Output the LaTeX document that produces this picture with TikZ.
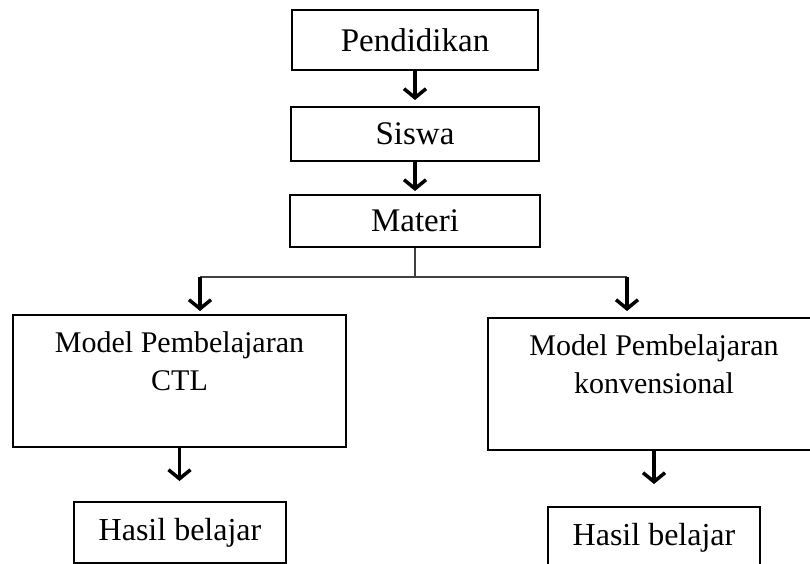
\documentclass[tikz,border=0pt]{standalone}
\usepackage{fontspec}
\setmainfont{Liberation Serif}
\usetikzlibrary{arrows.meta, calc}
\tikzset{
  every picture/.style={line width=2pt},
  box/.style={draw=black, line width=2pt, align=center, inner sep=0pt, font=\fontsize{33}{40}\selectfont},
  modelbox/.style={box, minimum width=333pt, minimum height=132pt, font=\fontsize{30}{38}\selectfont},
  hasil/.style={box, minimum width=212pt, minimum height=61pt, font=\fontsize{32}{40}\selectfont},
  arrow/.style={-{Straight Barb[length=9pt, width=22pt]}, line width=3.5pt},
  link/.style={draw=black!75, line width=1.3pt},
}

\begin{document}
\begin{tikzpicture}[x=1pt, y=-1pt]
  \useasboundingbox (0,0) rectangle (810,564);
  % top chain
  \foreach \n/\y/\w/\h/\t in {pend/40/246/60/Pendidikan, siswa/134/248/54/Siswa, materi/221/250/52/Materi}
    \node[box, minimum width=\w pt, minimum height=\h pt] (\n) at (415,\y) {\t};
  \draw[arrow, shorten >=6pt] (pend.south) -- (pend.south |- siswa.north);
  \draw[arrow, shorten >=3pt] (siswa.south) -- (siswa.south |- materi.north);
  % two models
  \node[modelbox] (ctl) at (179.5,381) {Model Pembelajaran\\CTL\\[-10pt]\strut};
  \node[modelbox, minimum width=332pt] (konv) at (654,384) {Model Pembelajaran\\konvensional\\[-10pt]\strut};
  \coordinate (lsplit) at (200,277);
  \coordinate (rsplit) at (627,277);
  \draw[link] (materi.south) -- (materi.south |- lsplit);
  \draw[link] (lsplit) -- (rsplit);
  \draw[arrow, shorten >=3pt] (lsplit) -- (lsplit |- ctl.north);
  \draw[arrow, shorten >=6pt] (rsplit) -- (rsplit |- konv.north);
  % results
  \node[hasil] (hasilA) at (180,532.5) {Hasil belajar};
  \node[hasil] (hasilB) at (654,537.5) {Hasil belajar};
  \draw[arrow, shorten >=20pt] (ctl.south) -- (ctl.south |- hasilA.north);
  \draw[arrow, shorten >=22pt] (konv.south) -- (konv.south |- hasilB.north);
\end{tikzpicture}
\end{document}
